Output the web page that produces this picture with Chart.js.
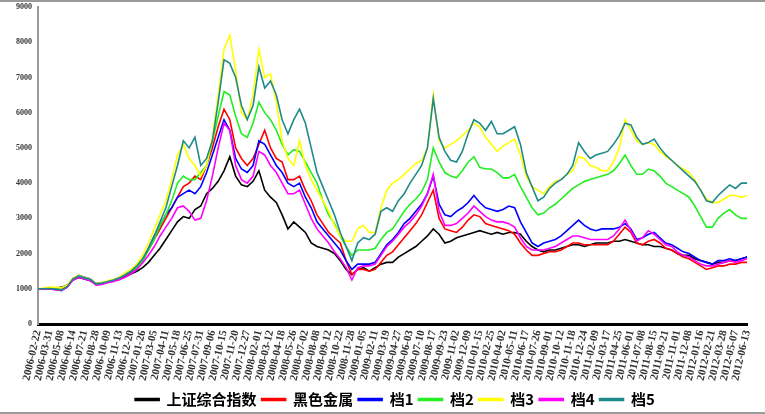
<!DOCTYPE html>
<html>
<head>
<meta charset="utf-8">
<script src="https://cdn.jsdelivr.net/npm/chart.js@4"></script>
<style>
  html, body { margin: 0; padding: 0; background: #fff; }
  #wrap { width: 765px; height: 414px; box-sizing: border-box; border-top: 2px solid #9a9a9a; border-bottom: 2px solid #9a9a9a; }
</style>
</head>
<body>
<div id="wrap"><canvas id="chart" width="765" height="410"></canvas></div>
<script>
// 刻度日期（每两个数据点一个刻度）
const tickDates = [
  '2006-02-22','2006-03-31','2006-05-08','2006-06-14','2006-07-21','2006-08-28','2006-10-09','2006-11-13',
  '2006-12-20','2007-01-26','2007-03-05','2007-04-11','2007-05-18','2007-06-25','2007-07-31','2007-09-06',
  '2007-10-15','2007-11-20','2007-12-27','2008-02-01','2008-03-12','2008-04-18','2008-05-26','2008-07-02',
  '2008-08-08','2008-09-12','2008-10-22','2008-11-28','2009-01-05','2009-02-11','2009-03-19','2009-04-27',
  '2009-06-03','2009-07-10','2009-08-17','2009-09-23','2009-11-02','2009-12-09','2010-01-15','2010-02-25',
  '2010-04-02','2010-05-11','2010-06-17','2010-07-26','2010-09-01','2010-10-12','2010-11-18','2010-12-24',
  '2011-02-09','2011-03-17','2011-04-25','2011-06-01','2011-07-08','2011-08-15','2011-09-21','2011-11-01',
  '2011-12-08','2012-01-16','2012-02-21','2012-03-28','2012-05-07','2012-06-13'
];

const seriesNames = ['上证综合指数', '黑色金属', '档1', '档2', '档3', '档4', '档5'];

const shIndex = [1000,1010,1030,1020,1040,1100,1250,1320,1280,1230,1150,1170,1200,1240,1290,
  1350,1420,1500,1600,1750,1950,2150,2400,2650,2900,3050,3000,3250,3350,3700,3850,4050,4350,4750,4200,
  3950,3900,4050,4350,3800,3600,3450,3100,2700,2900,2750,2600,2300,2200,2150,2100,2000,1800,1550,1400,
  1550,1600,1500,1600,1700,1750,1750,1900,2000,2100,2200,2350,2500,2700,2550,2300,2350,2450,2500,2550,
  2600,2650,2600,2550,2600,2550,2600,2600,2550,2350,2200,2100,2050,2100,2100,2150,2200,2250,2250,2200,
  2250,2300,2300,2300,2350,2350,2400,2350,2300,2250,2250,2200,2200,2150,2100,2000,1950,1950,1850,1800,
  1750,1700,1750,1750,1800,1800,1850,1900];

const ferrous = [1000,1000,1010,990,980,1080,1280,1360,1310,1260,1120,1140,1190,1230,1290,
  1380,1470,1600,1800,2100,2400,2700,3000,3300,3600,3900,4000,4200,4100,4500,5000,5600,6100,5800,5000,
  4700,4500,4700,5100,5500,5000,4700,4600,4100,4100,4200,3800,3500,3100,2850,2600,2450,2300,1800,1400,
  1550,1550,1500,1550,1750,1950,2050,2250,2450,2650,2850,3100,3450,3800,3000,2700,2650,2600,2750,2950,
  3100,3050,2850,2800,2750,2700,2650,2550,2300,2100,1950,1950,2000,2050,2050,2100,2200,2300,2300,2250,
  2250,2250,2250,2250,2350,2550,2750,2600,2300,2250,2350,2400,2300,2150,2100,2000,1900,1850,1750,1650,
  1550,1600,1650,1650,1700,1700,1750,1750];

const grade1 = [1000,990,1000,980,950,1050,1260,1380,1330,1280,1130,1150,1200,1240,1300,
  1400,1480,1620,1830,2150,2500,2800,3100,3300,3600,3700,3800,3700,3900,4300,4800,5300,5800,5500,4700,
  4400,4300,4500,5200,5100,4800,4500,4300,4000,3900,4000,3600,3300,2900,2700,2500,2300,2100,1800,1550,
  1700,1700,1700,1750,2000,2250,2400,2600,2850,3000,3200,3400,3700,4200,3400,3100,3050,3200,3300,3450,
  3650,3450,3300,3250,3200,3250,3350,3300,2900,2600,2300,2200,2300,2350,2400,2500,2650,2800,2950,2800,
  2700,2650,2700,2700,2700,2750,2850,2700,2400,2450,2550,2600,2450,2300,2250,2150,2050,2000,1900,1800,
  1750,1700,1800,1800,1850,1800,1850,1900];

const grade2 = [1000,1000,1020,1000,970,1060,1270,1370,1320,1260,1130,1160,1210,1250,1310,
  1400,1500,1600,1800,2100,2400,2800,3100,3500,4000,4200,4100,4100,4300,4500,5200,5900,6600,6500,5900,
  5400,5300,5700,6300,6000,5800,5500,5100,4800,4950,4900,4600,4300,4000,3500,3100,2850,2500,2200,1950,
  2100,2100,2100,2150,2400,2600,2700,2950,3200,3400,3550,3750,4100,5000,4600,4300,4200,4150,4350,4600,
  4750,4450,4400,4400,4300,4150,4150,4250,3900,3600,3300,3100,3150,3300,3400,3550,3700,3850,3950,4050,
  4100,4150,4200,4250,4350,4550,4800,4500,4250,4250,4400,4350,4200,4000,3900,3800,3700,3600,3350,3050,
  2750,2750,3000,3150,3250,3100,3000,3000];

const grade3 = [1000,1020,1050,1040,1020,1100,1300,1380,1320,1280,1150,1180,1230,1270,1330,
  1450,1550,1700,1950,2300,2700,3100,3500,4100,4800,5100,4700,4500,4200,4500,5300,6500,7800,8200,7200,
  6000,5800,6500,7800,7000,7100,6300,5200,4700,4500,5200,4500,4100,3800,3500,3200,2800,2500,2350,2350,
  2700,2800,2600,2600,3300,3800,4000,4100,4250,4400,4550,4650,5000,6500,5200,5000,5100,5200,5350,5500,
  5700,5600,5300,5100,4900,5050,5150,5250,4800,4200,3900,3800,3700,3900,4050,4100,4250,4350,4750,4700,
  4500,4450,4350,4350,4600,5000,5800,5500,5200,5100,5150,5100,4900,4750,4650,4500,4400,4300,4100,3800,
  3550,3450,3450,3550,3650,3650,3600,3650];

const grade4 = [1000,990,1000,970,960,1040,1240,1330,1280,1230,1100,1120,1170,1210,1260,
  1330,1420,1550,1730,1950,2200,2500,2750,3000,3300,3350,3200,2950,3000,3500,4200,5000,5700,5500,4500,
  4100,4000,4200,4900,4800,4500,4300,4000,3700,3700,3800,3400,3000,2700,2500,2300,2050,1850,1600,1250,
  1600,1650,1650,1700,1950,2200,2350,2550,2750,2900,3100,3350,3700,4250,3200,2800,2800,2850,3000,3150,
  3350,3200,3050,2950,2900,2900,2850,2750,2450,2200,2100,2100,2100,2150,2200,2300,2400,2500,2500,2450,
  2400,2400,2400,2400,2500,2700,2950,2650,2350,2450,2650,2550,2400,2250,2200,2050,1950,1900,1800,1700,
  1650,1650,1700,1750,1800,1750,1800,1850];

const grade5 = [1000,1000,1010,990,970,1060,1280,1370,1310,1270,1140,1160,1210,1250,1310,
  1400,1500,1650,1850,2150,2500,2900,3300,3900,4500,5200,5000,5300,4500,4700,5200,6300,7500,7400,7000,
  6200,5800,6200,7300,6700,6900,6500,5800,5400,5800,6100,5700,5000,4300,3900,3500,3100,2600,2200,1800,
  2300,2450,2400,2550,3200,3300,3200,3500,3700,4000,4250,4500,5000,6400,5300,4900,4650,4600,4900,5400,
  5800,5700,5500,5750,5400,5400,5500,5600,5100,4300,3900,3500,3600,3850,4000,4100,4250,4500,5150,4900,
  4700,4800,4850,4900,5100,5350,5700,5650,5300,5100,5150,5250,5000,4800,4650,4500,4350,4200,4050,3800,
  3500,3450,3650,3800,3950,3850,4000,4000];

const seriesData = [shIndex, ferrous, grade1, grade2, grade3, grade4, grade5];
const seriesColors = ['#000000', '#ff0000', '#0000ff', '#22ee22', '#ffff00', '#ff00ff', '#1f8a8a'];

const yTicks = [0, 1000, 2000, 3000, 4000, 5000, 6000, 7000, 8000, 9000];

const datasets = seriesNames.map((name, k) => ({
  label: name,
  data: seriesData[k].map((v, i) => ({ x: i, y: v })),
  borderColor: seriesColors[k],
  backgroundColor: seriesColors[k],
  borderWidth: 1.6,
  pointRadius: 0,
  tension: 0,
  order: seriesNames.length - k   // 后面的系列画在上层
}));

const ctx = document.getElementById('chart').getContext('2d');
new Chart(ctx, {
  type: 'line',
  data: { datasets: datasets },
  options: {
    responsive: false,
    animation: false,
    layout: { padding: { left: 15, right: -10, top: 0, bottom: -5 } },
    scales: {
      x: {
        type: 'linear',
        min: 0,
        max: (tickDates.length - 1) * 2,
        afterBuildTicks: axis => {
          axis.ticks = tickDates.map((d, j) => ({ value: j * 2 }));
        },
        grid: { display: false, drawTicks: false },
        border: { color: '#000', width: 3 },
        ticks: {
          autoSkip: false,
          minRotation: 77,
          maxRotation: 77,
          padding: 5,
          color: '#333',
          font: { family: 'Liberation Serif', size: 11, weight: 'bold' },
          callback: v => tickDates[v / 2]
        }
      },
      y: {
        min: 0,
        max: 9000,
        afterBuildTicks: axis => {
          axis.ticks = yTicks.map(v => ({ value: v }));
        },
        grid: { drawOnChartArea: false, drawTicks: true, tickLength: 5, tickColor: 'rgba(0,0,0,0)' },
        border: { color: '#999', width: 2 },
        ticks: {
          padding: 1,
          color: '#333',
          font: { family: 'Liberation Serif', size: 8, weight: 'bold', lineHeight: 1 },
          callback: v => String(v)
        }
      }
    },
    plugins: {
      tooltip: { enabled: false },
      legend: {
        position: 'bottom',
        reverse: true,
        labels: {
          boxWidth: 24,
          boxHeight: 2,
          padding: 5,
          color: '#000',
          font: { family: 'Noto Sans CJK SC', size: 15, weight: 'bold' }
        }
      }
    }
  }
});
</script>
</body>
</html>
